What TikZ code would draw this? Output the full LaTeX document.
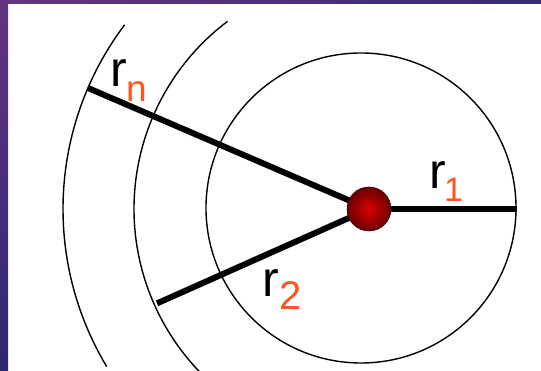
\documentclass[tikz,border=0pt]{standalone}
\usepackage{fontspec}
\setmainfont{Liberation Sans}
\usetikzlibrary{positioning,calc}
\definecolor{subred}{RGB}{255,85,30}
\definecolor{frametop}{RGB}{100,52,130}
\definecolor{framebot}{RGB}{45,40,112}
\definecolor{ballin}{RGB}{220,0,0}
\definecolor{ballout}{RGB}{105,0,0}

\begin{document}
\begin{tikzpicture}[x=1pt,y=1pt,
    arcline/.style={line width=1.4pt},
    radius line/.style={line width=6pt},
    rlab/.style={anchor=base west,inner sep=0pt,font=\fontsize{50}{50}\selectfont},
    sublab/.style={anchor=base west,inner sep=0pt,text=subred}]
  \useasboundingbox (0,0) rectangle (541,371);
  \fill[white] (0,0) rectangle (541,371);
  % slide frame
  \shade[top color=frametop,bottom color=framebot] (0,0) rectangle (8,371);
  \shade[left color=frametop,right color=framebot!80!frametop] (0,367) rectangle (541,371);
  % charge and shells
  \coordinate (C) at (369,162);
  \draw[arcline] (361,163) circle[radius=155];
  \draw[arcline] (C) ++(127:235) arc[start angle=127,end angle=224,radius=235];
  \draw[arcline] (C) ++(143:306) arc[start angle=143,end angle=211,radius=306];
  \path (C) ++(0:148) coordinate (oneend);
  \path (C) ++(204:232) coordinate (twoend);
  \path (C) ++(156.7:306) coordinate (nend);
  \draw[radius line] (C) -- (oneend);
  \draw[radius line] (C) -- (twoend);
  \draw[radius line] (C) -- (nend);
  \node[circle,minimum size=44pt,inner sep=0pt,draw=ballout!70!black,line width=0.6pt,
        inner color=ballin,outer color=ballout] (charge) at (C) {};
  % labels
  \node[rlab] (rone) at (429,182) {r};
  \node[sublab,font=\fontsize{34}{34}\selectfont] (sone) at (444,169) {1};
  \node[rlab] (rtwo) at (262,74) {r};
  \node[sublab,font=\fontsize{40}{40}\selectfont] (stwo) at (279,61) {2};
  \node[rlab] (rn) at (110,284) {r};
  \node[sublab,font=\fontsize{37}{37}\selectfont] (sn) at (126,269) {n};
\end{tikzpicture}
\end{document}
